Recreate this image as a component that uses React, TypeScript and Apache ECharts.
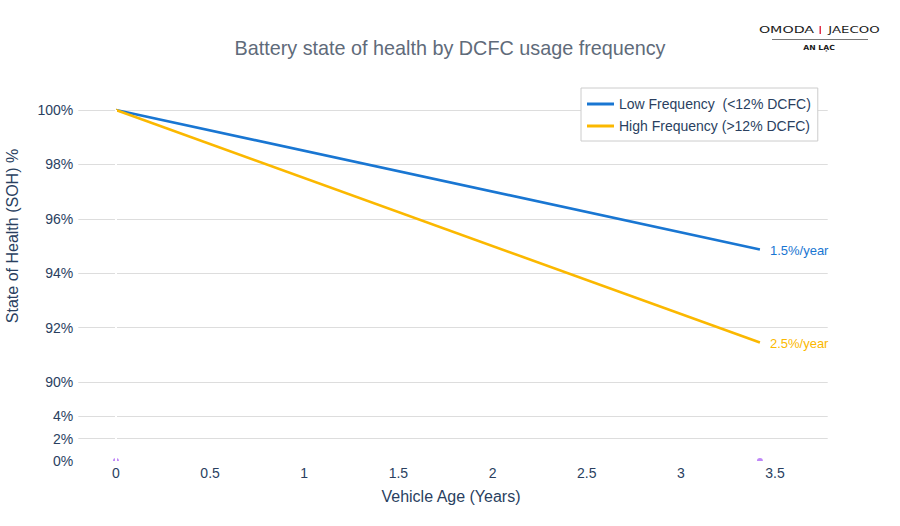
import { useEffect, useRef } from "react";
import * as echarts from "echarts";

const years = [0, 3.42];
const lowFreq = [100, 94.87];
const highFreq = [100, 91.45];
const rateLabels = ["1.5%/year", "2.5%/year"];
const baseMarks = [0, 3.42];
const xTicks = [0, 0.5, 1, 1.5, 2, 2.5, 3, 3.5];
const seriesNames = ["Low Frequency  (<12% DCFC)", "High Frequency (>12% DCFC)"];

const FONT = "'Liberation Sans', Arial, sans-serif";
const TICK = "#2a3f5f";
const BLUE = "#1976d2";
const ORANGE = "#fbb800";

export default function App() {
  const chartRef = useRef<HTMLDivElement>(null);

  useEffect(() => {
    if (!chartRef.current) return;
    const chart = echarts.init(chartRef.current, null, { renderer: "svg" });

    const xAxisBase = {
      type: "value" as const,
      min: -0.2,
      max: 3.78,
      axisLine: { show: false },
      axisTick: { show: false },
      splitLine: { show: false },
    };

    const yLabel = {
      formatter: (v: number) => `${v}%`,
      margin: 5,
      fontSize: 14,
      color: TICK,
      fontFamily: FONT,
    };

    const endLabel = (text: string, color: string) => ({
      show: true,
      distance: 10,
      offset: [0, 1],
      formatter: text,
      color,
      fontSize: 13,
      fontFamily: FONT,
    });

    const zeroLine = (idx: number) => ({
      type: "line",
      xAxisIndex: idx,
      yAxisIndex: idx,
      data: [],
      z: 1,
      silent: true,
      markLine: {
        silent: true,
        symbol: "none",
        label: { show: false },
        lineStyle: { color: "#ffffff", width: 2, type: "solid" },
        data: [{ xAxis: 0 }],
      },
    });

    const logoText = (
      text: string,
      x: number,
      y: number,
      size: number,
      sx: number,
      weight: string
    ) => ({
      type: "text",
      x,
      y,
      scaleX: sx,
      style: {
        text,
        fontSize: size,
        fontWeight: weight,
        fill: "#1a1a1a",
        fontFamily: "'DejaVu Sans', sans-serif",
        align: "center",
        verticalAlign: "middle",
      },
    });

    chart.setOption({
      animation: false,
      backgroundColor: "#ffffff",
      textStyle: { fontFamily: FONT },
      title: {
        text: "Battery state of health by DCFC usage frequency",
        left: "center",
        top: 33,
        textStyle: { fontSize: 19.8, fontWeight: "normal", color: "#5f6b7a", fontFamily: FONT },
      },
      legend: {
        orient: "vertical",
        left: 581,
        top: 88,
        padding: [9, 7, 8, 6],
        itemGap: 8,
        itemWidth: 27,
        itemHeight: 3,
        icon: "rect",
        backgroundColor: "#ffffff",
        borderColor: "#cccccc",
        borderWidth: 1,
        borderRadius: 0,
        textStyle: { fontSize: 14, color: TICK, fontFamily: FONT },
        data: seriesNames,
      },
      grid: [
        { left: 78.3, width: 749.4, top: 110, height: 272 },
        { left: 78.3, width: 749.4, top: 416, height: 45 },
      ],
      xAxis: [
        { ...xAxisBase, gridIndex: 0, axisLabel: { show: false } },
        {
          ...xAxisBase,
          gridIndex: 1,
          axisLabel: {
            show: true,
            customValues: xTicks,
            margin: 5,
            fontSize: 14,
            color: TICK,
            fontFamily: FONT,
          },
        },
      ],
      yAxis: [
        {
          type: "value",
          gridIndex: 0,
          min: 90,
          max: 100,
          interval: 2,
          axisLine: { show: false },
          axisTick: { show: false },
          splitLine: { lineStyle: { color: "#dddddd", width: 1 } },
          axisLabel: yLabel,
        },
        {
          type: "value",
          gridIndex: 1,
          min: 0,
          max: 4,
          interval: 2,
          axisLine: { show: false },
          axisTick: { show: false },
          splitLine: { lineStyle: { color: ["rgba(0,0,0,0)", "#dddddd", "#dddddd"], width: 1 } },
          axisLabel: yLabel,
        },
      ],
      series: [
        zeroLine(0),
        zeroLine(1),
        {
          name: seriesNames[0],
          type: "line",
          xAxisIndex: 0,
          yAxisIndex: 0,
          clip: false,
          showSymbol: false,
          symbol: "none",
          z: 3,
          lineStyle: { color: BLUE, width: 2.6 },
          itemStyle: { color: BLUE },
          endLabel: endLabel(rateLabels[0], BLUE),
          data: years.map((x, i) => [x, lowFreq[i]]),
        },
        {
          name: seriesNames[1],
          type: "line",
          xAxisIndex: 0,
          yAxisIndex: 0,
          clip: false,
          showSymbol: false,
          symbol: "none",
          z: 3,
          lineStyle: { color: ORANGE, width: 2.6 },
          itemStyle: { color: ORANGE },
          endLabel: endLabel(rateLabels[1], ORANGE),
          data: years.map((x, i) => [x, highFreq[i]]),
        },
        {
          type: "scatter",
          xAxisIndex: 1,
          yAxisIndex: 1,
          silent: true,
          symbol: "path://M0,10 A10,10 0 0 1 20,10 Z",
          symbolSize: [6, 3],
          symbolOffset: [0, -1.5],
          itemStyle: { color: "#b06af5" },
          data: baseMarks.map((x) => [x, 0]),
        },
      ],
      graphic: [
        {
          type: "text",
          x: 12,
          y: 236,
          rotation: Math.PI / 2,
          style: {
            text: "State of Health (SOH) %",
            fontSize: 16,
            fill: TICK,
            fontFamily: FONT,
            align: "center",
            verticalAlign: "middle",
          },
        },
        {
          type: "text",
          x: 451,
          y: 496,
          style: {
            text: "Vehicle Age (Years)",
            fontSize: 16,
            fill: TICK,
            fontFamily: FONT,
            align: "center",
            verticalAlign: "middle",
          },
        },
        {
          type: "group",
          children: [
            { ...logoText("OMODA", 786.5, 30, 9.5, 1.5, "normal") },
            {
              type: "rect",
              shape: { x: 819.5, y: 26, width: 1.5, height: 8 },
              style: { fill: "#e0304a" },
            },
            { ...logoText("JAECOO", 854, 30, 9.5, 1.4, "normal") },
            {
              type: "line",
              shape: { x1: 772, y1: 39.5, x2: 868, y2: 39.5 },
              style: { stroke: "#555555", lineWidth: 0.8 },
            },
            { ...logoText("AN LẠC", 819, 47.5, 7, 1.1, "bold") },
          ],
        },
      ],
    });

    return () => {
      chart.dispose();
    };
  }, []);

  return (
    <div
      ref={chartRef}
      style={{ position: "absolute", left: 0, top: 0, width: "900px", height: "526px" }}
    />
  );
}
